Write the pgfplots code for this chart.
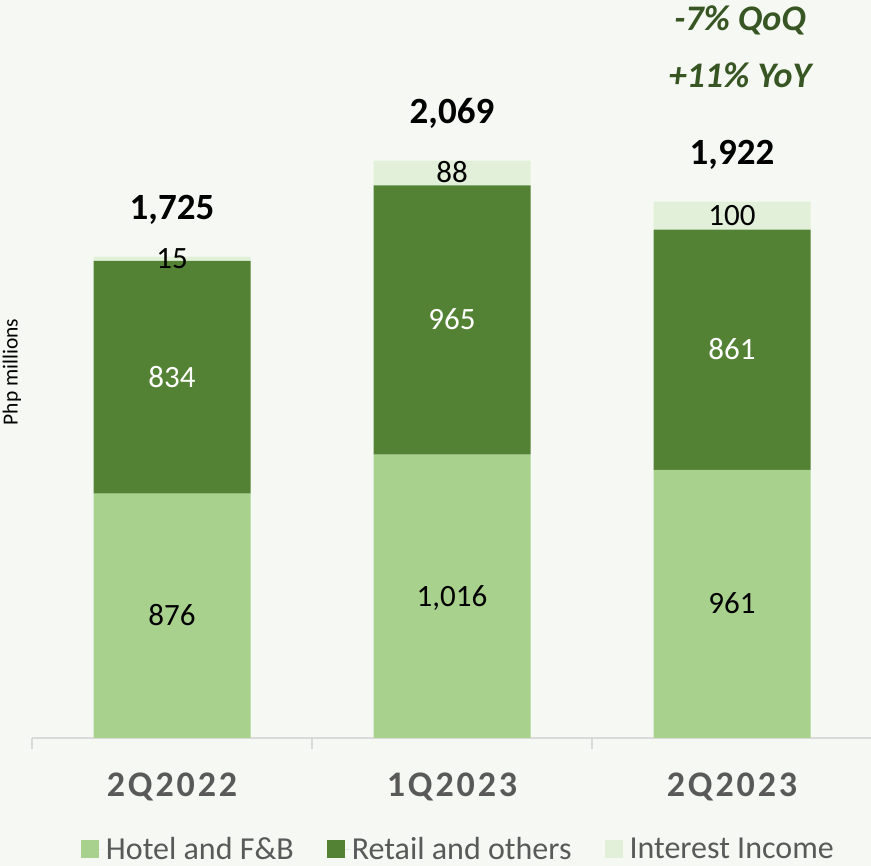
\documentclass[border=0pt]{standalone}
\usepackage{pgfplots}
\pgfplotsset{compat=1.18}
\usepackage{fontspec}
\setmainfont{Carlito}
\newfontfamily\tickfont[LetterSpace=8]{Carlito}
\definecolor{bg}{HTML}{F6F9F3}
\definecolor{hotel}{HTML}{A9D18E}
\definecolor{retail}{HTML}{548235}
\definecolor{interest}{HTML}{E2F0D9}
\definecolor{axgray}{HTML}{D9D9D9}
\definecolor{lblgray}{HTML}{595959}
\definecolor{dkgreen}{HTML}{375623}
\begin{document}
\begin{tikzpicture}[x=1pt,y=1pt]
\fill[bg] (0,0) rectangle (871,866);
\useasboundingbox (0,0) rectangle (871,866);
\node[rotate=90, font=\fontsize{21.5}{21.5}\selectfont, text=black] at (12,494) {Php millions};
\node[anchor=base, font=\bfseries\itshape\fontsize{36}{36}\selectfont, text=dkgreen] at (740,835) {-7\% QoQ};
\node[anchor=base, font=\bfseries\itshape\fontsize{36}{36}\selectfont, text=dkgreen] at (740,778) {+11\% YoY};
\begin{axis}[
  at={(32pt,128pt)}, anchor=south west,
  scale only axis, width=840pt, height=738pt,
  xmin=-0.5, xmax=2.5, ymin=0, ymax=2645,
  ybar stacked, bar width=157pt,
  axis x line=bottom, axis y line=none,
  x axis line style={-, draw=axgray, line width=1.5pt},
  xtick={0,1,2}, xticklabels={2Q2022,1Q2023,2Q2023},
  minor xtick={-0.5,0.5,1.5,2.5},
  tick align=outside, major tick length=0pt, minor tick length=11pt,
  minor x tick style={draw=axgray, line width=1.5pt},
  xticklabel style={font=\tickfont\bfseries\fontsize{36}{36}\selectfont, text=lblgray, anchor=base, yshift=-59pt},
  clip=false,
  legend columns=3,
  legend style={draw=none, fill=none, at={(axis cs:-0.5,0)}, anchor=south west, xshift=49pt, yshift=-125pt,
    font=\fontsize{32}{32}\selectfont, text=lblgray, inner sep=0pt, outer sep=0pt,
    /tikz/every even column/.append style={column sep=31pt}},
  legend image code/.code={\fill[#1,draw=none] (0pt,-8.5pt) rectangle (18pt,9.5pt); \path (0pt,0pt) -- (23pt,0pt);},
]
\addplot[fill=hotel, draw=none] coordinates {(0,876) (1,1016) (2,961)};
\addplot[fill=retail, draw=none] coordinates {(0,834) (1,965) (2,861)};
\addplot[fill=interest, draw=none] coordinates {(0,15) (1,88) (2,100)};
\legend{Hotel and F\&B, Retail and others, Interest Income}
\coordinate (h0) at (axis cs:0,438);
\coordinate (h1) at (axis cs:1,508);
\coordinate (h2) at (axis cs:2,480.5);
\coordinate (r0) at (axis cs:0,1293);
\coordinate (r1) at (axis cs:1,1498.5);
\coordinate (r2) at (axis cs:2,1391.5);
\coordinate (i0) at (axis cs:0,1717.5);
\coordinate (i1) at (axis cs:1,2025);
\coordinate (i2) at (axis cs:2,1872);
\coordinate (t0) at (axis cs:0,1725);
\coordinate (t1) at (axis cs:1,2069);
\coordinate (t2) at (axis cs:2,1922);
\end{axis}
\tikzset{seg/.style={anchor=base, yshift=-9.8pt, font=\fontsize{31}{31}\selectfont}}
\node[seg, text=black] at (h0) {876};
\node[seg, text=black] at (h1) {1,016};
\node[seg, text=black] at (h2) {961};
\node[seg, text=white] at (r0) {834};
\node[seg, text=white] at (r1) {965};
\node[seg, text=white] at (r2) {861};
\node[seg, text=black] at (i0) {15};
\node[seg, text=black] at (i1) {88};
\node[seg, text=black] at (i2) {100};
\tikzset{tot/.style={anchor=base, yshift=37pt, font=\bfseries\fontsize{37}{37}\selectfont, text=black}}
\node[tot] at (t0) {1,725};
\node[tot] at (t1) {2,069};
\node[tot] at (t2) {1,922};
\end{tikzpicture}
\end{document}
